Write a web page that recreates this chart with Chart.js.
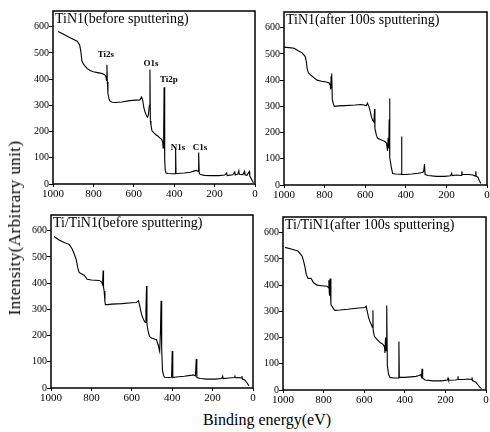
<!DOCTYPE html>
<html>
<head>
<meta charset="utf-8">
<script src="https://cdn.jsdelivr.net/npm/chart.js@4/dist/chart.umd.min.js"></script>
<style>
    body { margin: 0; background: #fff; }
    #wrap { position: relative; width: 490px; height: 432px; overflow: hidden; font-family: 'Liberation Serif', serif; }
    canvas { position: absolute; }
    .ytitle { position: absolute; left: 15px; top: 228px; transform: translate(-50%, -50%) rotate(-90deg); font-size: 17px; letter-spacing: 0.4px; white-space: pre; }
    .xtitle { position: absolute; left: 267px; top: 420px; transform: translate(-50%, -50%); font-size: 16px; white-space: nowrap; }
</style>
</head>
<body>
<div id="wrap">
    <canvas id="tl"></canvas>
    <canvas id="tr"></canvas>
    <canvas id="bl"></canvas>
    <canvas id="br"></canvas>
    <div class="ytitle">Intensity(Arbitrary unit)</div>
    <div class="xtitle">Binding energy(eV)</div>
</div>
<script>
// Axis ticks
const xTicks = [1000, 800, 600, 400, 200, 0];
const yTicks = [0, 100, 200, 300, 400, 500, 600];

// TiN1 before sputtering
const tinBeforeE = [975, 950, 920, 895, 880, 868, 862, 857, 850, 842, 830, 817, 800, 780, 760, 745, 738, 735, 733, 731, 728, 722, 716, 705, 690, 660, 620, 590, 570, 562, 556, 550, 545, 538, 533, 528, 523, 520, 518, 515, 510, 500, 490, 480, 470, 462, 457, 455, 452, 450, 448, 446, 444, 440, 430, 410, 396, 393, 391, 385, 350, 320, 300, 290, 282, 279, 276, 270, 250, 220, 180, 150, 140, 138, 110, 100, 98, 85, 80, 78, 60, 52, 50, 40, 28, 26, 15, 8];
const tinBeforeI = [582, 572, 560, 550, 545, 530, 505, 470, 458, 451, 440, 433, 428, 425, 422, 418, 410, 395, 455, 390, 345, 322, 315, 312, 311, 313, 318, 320, 321, 332, 320, 290, 276, 262, 255, 262, 300, 437, 240, 225, 203, 195, 188, 182, 175, 170, 160, 138, 200, 369, 160, 90, 50, 42, 40, 39, 39, 134, 40, 40, 42, 45, 50, 52, 48, 120, 40, 36, 33, 32, 32, 34, 42, 32, 35, 46, 34, 38, 50, 37, 36, 48, 35, 33, 48, 30, 15, 5];

// TiN1 after 100s sputtering
const tinAfterE = [1000, 975, 950, 930, 911, 895, 890, 886, 880, 870, 861, 850, 837, 815, 792, 777, 772, 770, 768, 766, 764, 762, 757, 752, 730, 700, 650, 620, 594, 589, 582, 575, 569, 562, 557, 554, 552, 545, 539, 520, 505, 495, 490, 487, 484, 482, 480, 478, 472, 465, 450, 430, 423, 421, 419, 400, 370, 340, 320, 312, 308, 305, 290, 250, 210, 180, 174, 172, 150, 126, 124, 122, 90, 70, 58, 55, 53, 45, 35, 30];
const tinAfterI = [526, 524, 522, 512, 504, 490, 470, 444, 428, 420, 415, 408, 400, 396, 393, 389, 380, 365, 415, 370, 425, 326, 310, 300, 302, 303, 305, 307, 303, 312, 300, 280, 259, 245, 240, 290, 215, 190, 178, 172, 167, 160, 130, 180, 140, 250, 330, 104, 70, 44, 42, 41, 41, 185, 40, 40, 42, 45, 48, 50, 80, 40, 36, 33, 33, 35, 45, 36, 38, 36, 52, 40, 40, 38, 34, 52, 33, 30, 12, 6];

// Ti/TiN1 before sputtering
const tiTinBeforeE = [985, 960, 935, 910, 895, 885, 875, 868, 861, 850, 836, 821, 800, 780, 761, 750, 745, 742, 740, 737, 733, 731, 720, 700, 650, 600, 577, 567, 560, 553, 547, 540, 534, 530, 527, 525, 520, 512, 500, 485, 478, 470, 468, 462, 458, 455, 452, 448, 443, 438, 420, 403, 400, 397, 380, 340, 310, 295, 285, 281, 278, 260, 230, 190, 155, 150, 148, 120, 92, 90, 88, 70, 58, 55, 53, 40, 30, 20];
const tiTinBeforeI = [578, 565, 555, 548, 530, 511, 490, 460, 441, 436, 430, 415, 412, 411, 410, 405, 395, 448, 385, 370, 330, 318, 318, 320, 322, 325, 326, 333, 310, 285, 270, 258, 250, 300, 389, 245, 220, 196, 190, 186, 185, 165, 159, 140, 220, 333, 150, 67, 48, 41, 40, 41, 141, 40, 42, 45, 48, 50, 46, 111, 40, 36, 34, 34, 36, 45, 36, 38, 40, 48, 39, 40, 38, 45, 35, 30, 20, 8];

// Ti/TiN1 after 100s sputtering
const tiTinAfterE = [990, 960, 926, 906, 898, 892, 885, 877, 862, 850, 833, 810, 783, 776, 774, 772, 770, 768, 764, 759, 750, 744, 720, 680, 640, 610, 596, 590, 585, 578, 571, 565, 560, 557, 556, 550, 537, 520, 507, 500, 498, 495, 492, 490, 488, 486, 480, 473, 455, 432, 429, 427, 400, 370, 345, 330, 322, 318, 315, 312, 300, 260, 220, 190, 187, 184, 150, 140, 138, 136, 110, 90, 72, 69, 67, 50, 40, 30, 22];
const tiTinAfterI = [544, 538, 530, 511, 490, 470, 440, 426, 426, 410, 400, 398, 396, 390, 419, 370, 360, 425, 326, 320, 308, 304, 305, 308, 312, 314, 315, 320, 300, 275, 259, 250, 240, 304, 230, 205, 193, 180, 174, 165, 141, 200, 150, 250, 322, 93, 60, 48, 46, 46, 185, 48, 48, 50, 52, 55, 58, 50, 81, 45, 38, 35, 35, 38, 45, 37, 38, 40, 52, 40, 40, 42, 40, 48, 36, 30, 20, 10, 5];

// Peak annotations (top-left panel only)
const peakNames = ['Ti2s', 'O1s', 'Ti2p', 'N1s', 'C1s'];
const peakEnergy = [738, 515, 426, 381, 272];
const peakLevel = [492, 459, 399, 138, 138];

const FONT = "'Liberation Serif', 'Times New Roman', serif";

// frame + in-panel title + peak labels
const panelDeco = {
    id: 'panelDeco',
    afterDatasetsDraw(chart, args, opts) {
        const { ctx, chartArea: a } = chart;
        ctx.save();
        ctx.strokeStyle = '#000';
        ctx.lineWidth = 1.5;
        ctx.strokeRect(a.left, a.top, a.right - a.left, a.bottom - a.top);
        ctx.fillStyle = '#000';
        ctx.font = '14px ' + FONT;
        ctx.textBaseline = 'top';
        ctx.textAlign = 'left';
        ctx.fillText(opts.title, a.left + 2, a.top + 1);
        if (opts.peaks) {
            ctx.font = 'bold 9px ' + FONT;
            ctx.textAlign = 'center';
            ctx.textBaseline = 'middle';
            const xs = chart.scales.x, ys = chart.scales.y;
            opts.peaks.names.forEach((n, i) => {
                ctx.fillText(n, xs.getPixelForValue(opts.peaks.energy[i]), ys.getPixelForValue(opts.peaks.level[i]));
            });
        }
        ctx.restore();
    }
};

const YW = 34, XH = 20, PR = 8, PT = 1;

function makePanel(id, box, title, energy, counts, peaks) {
    const cv = document.getElementById(id);
    const w = (box.r - box.l) + YW + PR;
    const h = (box.b - box.t) + XH + PT;
    cv.width = w; cv.height = h;
    cv.style.left = (box.l - YW) + 'px';
    cv.style.top = (box.t - PT) + 'px';

    return new Chart(cv.getContext('2d'), {
        type: 'line',
        data: {
            datasets: [{
                data: energy.map((e, i) => ({ x: e, y: counts[i] })),
                borderColor: '#000',
                borderWidth: 1.1,
                pointRadius: 0,
                tension: 0,
                fill: false
            }]
        },
        options: {
            responsive: false,
            animation: false,
            layout: { padding: { top: PT, right: PR, left: 0, bottom: 0 } },
            plugins: {
                legend: { display: false },
                tooltip: { enabled: false },
                panelDeco: { title: title, peaks: peaks }
            },
            scales: {
                x: {
                    type: 'linear',
                    reverse: true,
                    min: 0,
                    max: 1000,
                    afterBuildTicks: s => { s.ticks = xTicks.map(v => ({ value: v })); },
                    afterFit: s => { s.height = XH; },
                    border: { display: false },
                    grid: { drawOnChartArea: false, color: '#000', tickLength: 3 },
                    ticks: { color: '#000', font: { family: FONT, size: 11 }, padding: 1, maxRotation: 0, autoSkip: false,
                        callback: v => String(v) }
                },
                y: {
                    min: 0,
                    max: 660,
                    afterBuildTicks: s => { s.ticks = yTicks.map(v => ({ value: v })); },
                    afterFit: s => { s.width = YW; },
                    border: { display: false },
                    grid: { drawOnChartArea: false, color: '#000', tickLength: 4 },
                    ticks: { color: '#000', font: { family: FONT, size: 10 }, padding: 0,
                        callback: v => String(v) }
                }
            }
        },
        plugins: [panelDeco]
    });
}

makePanel('tl', { l: 53, r: 255, t: 6, b: 184 }, 'TiN1(before sputtering)', tinBeforeE, tinBeforeI,
    { names: peakNames, energy: peakEnergy, level: peakLevel });
makePanel('tr', { l: 284, r: 487, t: 7, b: 185 }, 'TiN1(after 100s sputtering)', tinAfterE, tinAfterI);
makePanel('bl', { l: 51, r: 253, t: 210, b: 388 }, 'Ti/TiN1(before sputtering)', tiTinBeforeE, tiTinBeforeI);
makePanel('br', { l: 283, r: 486, t: 212, b: 390 }, 'Ti/TiN1(after 100s sputtering)', tiTinAfterE, tiTinAfterI);
</script>
</body>
</html>
